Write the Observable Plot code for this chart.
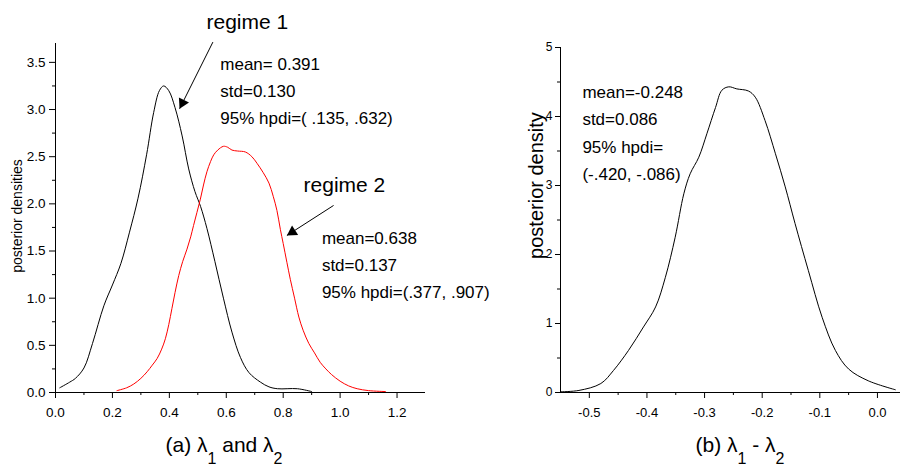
<!DOCTYPE html>
<html>
<head>
<meta charset="utf-8">
<script src="https://cdn.jsdelivr.net/npm/d3@7"></script>
<script src="https://cdn.jsdelivr.net/npm/@observablehq/plot@0.6"></script>
<style>
  body { margin: 0; background: #fff; }
  #wrap { position: relative; width: 903px; height: 472px; overflow: hidden; background: #fff; }
  #left, #right { position: absolute; top: 0; }
  #left { left: 0; }
  #right { left: 460px; }
  .cap { position: absolute; width: 300px; text-align: center; font-family: "Liberation Sans", Arial, sans-serif;
         font-size: 21px; line-height: 21px; color: #000; white-space: nowrap; }
  .cap sub { font-size: 16px; vertical-align: -12px; line-height: 0; }
</style>
</head>
<body>
<div id="wrap">
  <div id="left"></div>
  <div id="right"></div>
  <div class="cap" id="capA" style="left:74px; top:434px;">(a) λ<sub>1</sub> and λ<sub>2</sub></div>
  <div class="cap" id="capB" style="left:590px; top:434px;">(b) λ<sub>1</sub> - λ<sub>2</sub></div>
</div>
<script>
// ---------- data ----------
const regime1 = [[0.015,0.05],[0.05,0.11],[0.07,0.15],[0.10,0.26],[0.13,0.52],[0.17,0.92],[0.20,1.14],[0.23,1.37],[0.26,1.70],[0.29,2.06],[0.32,2.52],[0.345,2.97],[0.365,3.20],[0.38,3.25],[0.398,3.20],[0.42,3.02],[0.445,2.72],[0.468,2.37],[0.49,2.13],[0.51,1.97],[0.532,1.74],[0.56,1.39],[0.59,1.00],[0.62,0.64],[0.65,0.37],[0.68,0.21],[0.72,0.11],[0.75,0.06],[0.78,0.04],[0.85,0.04],[0.90,0.01]];
const regime2 = [[0.216,0.02],[0.25,0.05],[0.275,0.09],[0.30,0.15],[0.322,0.22],[0.34,0.29],[0.357,0.36],[0.373,0.46],[0.386,0.57],[0.398,0.72],[0.409,0.89],[0.42,1.06],[0.433,1.24],[0.447,1.39],[0.462,1.52],[0.475,1.65],[0.485,1.77],[0.497,1.91],[0.509,2.05],[0.52,2.20],[0.532,2.34],[0.545,2.45],[0.556,2.52],[0.57,2.57],[0.59,2.61],[0.605,2.60],[0.62,2.57],[0.64,2.56],[0.667,2.55],[0.69,2.50],[0.708,2.43],[0.73,2.33],[0.75,2.22],[0.765,2.08],[0.778,1.93],[0.79,1.73],[0.80,1.58],[0.813,1.38],[0.825,1.20],[0.84,1.00],[0.855,0.80],[0.87,0.66],[0.89,0.52],[0.91,0.42],[0.93,0.32],[0.95,0.25],[0.97,0.19],[1.0,0.12],[1.03,0.07],[1.06,0.04],[1.10,0.02],[1.16,0.01]];
const difference = [[-0.55,0.01],[-0.518,0.03],[-0.48,0.13],[-0.458,0.32],[-0.432,0.61],[-0.406,0.95],[-0.385,1.24],[-0.368,1.67],[-0.351,2.25],[-0.336,2.88],[-0.325,3.17],[-0.31,3.41],[-0.296,3.75],[-0.281,4.13],[-0.27,4.38],[-0.258,4.43],[-0.244,4.40],[-0.224,4.37],[-0.212,4.28],[-0.195,3.94],[-0.177,3.46],[-0.16,2.98],[-0.143,2.45],[-0.12,1.77],[-0.096,1.09],[-0.073,0.61],[-0.05,0.34],[-0.016,0.17],[0.031,0.04]];

const leftXTicks = [0, 0.2, 0.4, 0.6, 0.8, 1.0, 1.2];
const leftXMinor = [0.1, 0.3, 0.5, 0.7, 0.9, 1.1];
const leftYTicks = [0, 0.5, 1.0, 1.5, 2.0, 2.5, 3.0, 3.5];
const leftYMinor = [0.25, 0.75, 1.25, 1.75, 2.25, 2.75, 3.25];
const rightXTicks = [-0.5, -0.4, -0.3, -0.2, -0.1, 0.0];
const rightXMinor = [-0.45, -0.35, -0.25, -0.15, -0.05];
const rightYTicks = [0, 1, 2, 3, 4, 5];
const rightYMinor = [0.5, 1.5, 2.5, 3.5, 4.5];

const leftLabels = [
  {x: 0.674, y: 3.857, text: "regime 1"},
  {x: 1.015, y: 2.124, text: "regime 2"}
];
const leftStats = [
  {x: 0.579, y: 2.849, text: "mean= 0.391\nstd=0.130\n95% hpdi=( .135, .632)"},
  {x: 0.936, y: 1.004, text: "mean=0.638\nstd=0.137\n95% hpdi=(.377, .907)"}
];
const leftArrows = [
  {x1: 0.553, y1: 3.715, x2: 0.436, y2: 3.008},
  {x1: 0.977, y1: 1.983, x2: 0.813, y2: 1.665}
];
const rightStats = [
  {x: -0.512, y: 3.083, text: "mean=-0.248\nstd=0.086\n95% hpdi=\n(-.420, -.086)"}
];

// ---------- layout ----------
const SANS = "'Liberation Sans', Arial, Helvetica, sans-serif";
const NARROW = "'Liberation Sans Narrow', 'Arial Narrow', 'Liberation Sans', Arial, sans-serif";
const L = {width: 440, height: 420, marginLeft: 55, marginRight: 15, marginTop: 43, marginBottom: 28, xd: [0, 1.3], yd: [0, 3.7]};
const R = {width: 443, height: 420, marginLeft: 100, marginRight: 3, marginTop: 47, marginBottom: 28, xd: [-0.55, 0.04], yd: [0, 5]};

function heads(arrows, P) {
  const kx = (P.width - P.marginLeft - P.marginRight) / (P.xd[1] - P.xd[0]);
  const ky = (P.height - P.marginTop - P.marginBottom) / (P.yd[1] - P.yd[0]);
  const off = 6.5;
  return arrows.map(a => {
    const dx = (a.x2 - a.x1) * kx, dy = -(a.y2 - a.y1) * ky;
    const len = Math.hypot(dx, dy);
    const ux = dx / len, uy = dy / len;
    return {x: a.x2 - off * ux / kx, y: a.y2 + off * uy / ky, angle: Math.atan2(dx, -dy) * 180 / Math.PI};
  });
}

const fmt1 = d => d.toFixed(1);

const left = Plot.plot({
  width: L.width, height: L.height,
  marginLeft: L.marginLeft, marginRight: L.marginRight, marginTop: L.marginTop, marginBottom: L.marginBottom,
  x: {domain: L.xd},
  y: {domain: L.yd},
  style: {fontFamily: NARROW, fontSize: "13.5px", color: "#000", background: "transparent", overflow: "visible"},
  marks: [
    Plot.ruleY([L.yd[0]], {stroke: "#000"}),
    Plot.ruleX([L.xd[0]], {stroke: "#000"}),
    Plot.axisX(leftXTicks, {tickSize: 6, tickPadding: 9, tickFormat: fmt1, label: null}),
    Plot.axisX(leftXMinor, {tickSize: 3, tickFormat: () => "", label: null}),
    Plot.axisY(leftYTicks, {tickSize: 6, tickPadding: 4, tickFormat: fmt1, label: null}),
    Plot.axisY(leftYMinor, {tickSize: 3, tickFormat: () => "", label: null}),
    Plot.text(["posterior densities"], {frameAnchor: "left", textAnchor: "middle", rotate: -90, dx: -33.5, dy: -2, lineAnchor: "bottom", fontSize: 14, fontFamily: SANS}),
    Plot.line(regime1, {x: d => d[0], y: d => d[1], stroke: "#000", strokeWidth: 1, curve: "catmull-rom"}),
    Plot.line(regime2, {x: d => d[0], y: d => d[1], stroke: "#ff0000", strokeWidth: 1, curve: "catmull-rom"}),
    Plot.link(leftArrows, {x1: "x1", y1: "y1", x2: "x2", y2: "y2", stroke: "#000", strokeWidth: 1}),
    Plot.dot(heads(leftArrows, L), {x: "x", y: "y", rotate: "angle", symbol: "triangle", r: 4.2, fill: "#000", stroke: "none"}),
    Plot.text(leftLabels, {x: "x", y: "y", text: "text", fontSize: 21, fontFamily: SANS, textAnchor: "middle", lineAnchor: "bottom"}),
    Plot.text(leftStats, {x: "x", y: "y", text: "text", fontSize: 17, fontFamily: SANS, textAnchor: "start", lineAnchor: "bottom", lineHeight: 1.58})
  ]
});
document.getElementById("left").appendChild(left);

const right = Plot.plot({
  width: R.width, height: R.height,
  marginLeft: R.marginLeft, marginRight: R.marginRight, marginTop: R.marginTop, marginBottom: R.marginBottom,
  x: {domain: R.xd},
  y: {domain: R.yd},
  style: {fontFamily: NARROW, fontSize: "13px", color: "#000", background: "transparent", overflow: "visible"},
  marks: [
    Plot.ruleY([R.yd[0]], {stroke: "#000"}),
    Plot.ruleX([R.xd[0]], {stroke: "#000"}),
    Plot.axisX(rightXTicks, {tickSize: 6, tickPadding: 9, tickFormat: fmt1, label: null}),
    Plot.axisX(rightXMinor, {tickSize: 3, tickFormat: () => "", label: null}),
    Plot.axisY(rightYTicks, {tickSize: 5, tickPadding: 3, tickFormat: d => String(d), label: null, fontSize: 12}),
    Plot.axisY(rightYMinor, {tickSize: 3, tickFormat: () => "", label: null}),
    Plot.text(["posterior density"], {frameAnchor: "left", textAnchor: "middle", rotate: -90, dx: -18, dy: -34.5, lineAnchor: "bottom", fontSize: 20, fontFamily: SANS}),
    Plot.line(difference, {x: d => d[0], y: d => d[1], stroke: "#000", strokeWidth: 1, curve: "catmull-rom"}),
    Plot.text(rightStats, {x: "x", y: "y", text: "text", fontSize: 17, fontFamily: SANS, textAnchor: "start", lineAnchor: "bottom", lineHeight: 1.6})
  ]
});
document.getElementById("right").appendChild(right);
</script>
</body>
</html>
